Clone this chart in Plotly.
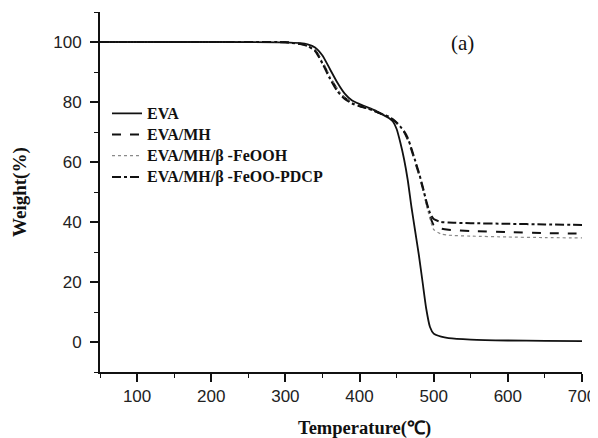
import plotly.graph_objects as go

temps = [50, 100, 200, 300, 320, 330, 340, 350, 360, 370, 380, 390, 400, 410, 420, 430,
         440, 445, 450, 455, 460, 465, 470, 475, 480, 485, 490, 495, 500, 510, 520, 550,
         600, 650, 700]

eva = [100, 100, 100, 99.9, 99.6, 99.2, 98.2, 95.5, 91.0, 86.5, 82.8, 80.5, 79.3, 78.3,
       77.3, 76.0, 74.6, 73.5, 71.0, 66.5, 61.0, 54.0, 45.0, 37.0, 29.0, 20.0, 11.0, 5.0,
       2.8, 1.8, 1.3, 0.8, 0.5, 0.4, 0.3]

eva_mh = [100, 100, 100, 99.9, 99.4, 98.8, 97.3, 93.3, 88.3, 84.3, 81.4, 79.7, 78.7,
          77.9, 77.0, 76.0, 75.0, 74.1, 73.0, 71.5, 70.0, 67.5, 64.0, 60.0, 56.0, 51.5,
          46.5, 42.0, 39.0, 37.8, 37.4, 37.0, 36.6, 36.3, 36.1]

eva_mh_feooh = [100, 100, 100, 99.9, 99.4, 98.8, 97.3, 93.4, 88.5, 84.4, 81.5, 79.8, 78.8,
                78.0, 77.1, 76.2, 75.2, 74.3, 73.2, 71.8, 70.2, 67.8, 64.3, 60.3, 56.2,
                51.5, 46.0, 41.0, 37.5, 36.0, 35.6, 35.3, 35.0, 34.8, 34.7]

eva_mh_pdcp = [100, 100, 100, 99.9, 99.3, 98.6, 97.0, 92.8, 87.8, 83.6, 81.0, 79.5, 78.6,
               77.9, 77.0, 76.0, 75.0, 74.2, 73.2, 71.8, 70.3, 68.0, 64.5, 60.5, 56.5,
               52.0, 47.0, 43.0, 41.0, 40.0, 39.8, 39.6, 39.4, 39.2, 39.0]

names = ["EVA", "EVA/MH", "EVA/MH/β -FeOOH", "EVA/MH/β -FeOO-PDCP"]
series = [eva, eva_mh, eva_mh_feooh, eva_mh_pdcp]
dashes = ["solid", "dash", "dot", "dashdot"]
colors = ["#111111", "#111111", "#8a8a8a", "#111111"]
widths = [1.8, 2.0, 1.2, 2.0]

x_ticks = [100, 200, 300, 400, 500, 600, 700]
y_ticks = [0, 20, 40, 60, 80, 100]

SERIF = "Liberation Serif, Times New Roman, serif"
SANS = "Liberation Sans, Arial, sans-serif"

fig = go.Figure()
for n, s, d, c, w in zip(names, series, dashes, colors, widths):
    fig.add_trace(go.Scatter(x=temps, y=s, mode="lines",
                             name="<span style='font-size:16px'>" + n + "</span>",
                             line=dict(color=c, dash=d, width=w, shape="spline", smoothing=0.6)))

axis_common = dict(
    showline=True, linecolor="#111111", linewidth=1.8, mirror=False,
    ticks="outside", ticklen=8, tickwidth=1.6, tickcolor="#111111",
    showgrid=False, zeroline=False,
    tickfont=dict(family=SANS, size=17, color="#222222"),
)

fig.update_xaxes(range=[50, 700], tickvals=x_ticks, ticklabelstandoff=0,
                 minor=dict(ticks="outside", ticklen=4, tickwidth=1.4, tickcolor="#111111", dtick=50, tick0=50),
                 **axis_common)
fig.update_yaxes(range=[-10, 110], tickvals=y_ticks, ticklabelstandoff=5,
                 minor=dict(ticks="outside", ticklen=4, tickwidth=1.4, tickcolor="#111111", dtick=10, tick0=0),
                 **axis_common)

fig.add_annotation(x=0.548, y=-0.156, xref="paper", yref="paper", text="Temperature(℃)",
                   showarrow=False, xanchor="center", yanchor="middle",
                   font=dict(family=SERIF, size=18.5, color="#111111", weight="bold"))
fig.add_annotation(x=-0.166, y=0.50, xref="paper", yref="paper", text="Weight(%)",
                   showarrow=False, textangle=-90, xanchor="center", yanchor="middle",
                   font=dict(family=SERIF, size=19, color="#111111", weight="bold"))
fig.add_annotation(x=0.753, y=0.914, xref="paper", yref="paper", text="(a)", showarrow=False,
                   xanchor="center", yanchor="middle",
                   font=dict(family=SERIF, size=21, color="#111111"))

fig.update_layout(
    width=598, height=438,
    margin=dict(l=92, r=24, t=4, b=74, autoexpand=False),
    paper_bgcolor="white", plot_bgcolor="white",
    legend=dict(x=0.0145, y=0.762, xanchor="left", yanchor="top", bgcolor="rgba(0,0,0,0)",
                tracegroupgap=0, itemwidth=30,
                font=dict(family=SERIF, size=14, color="#111111", weight="bold")),
    showlegend=True,
)

fig.write_html("out.html")
